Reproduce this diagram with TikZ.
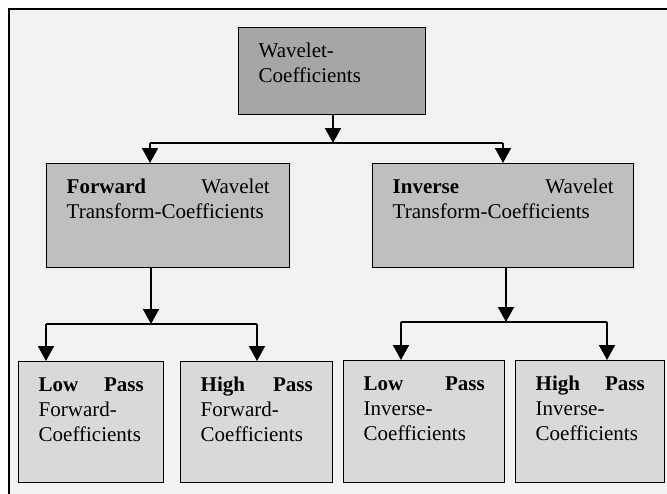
\documentclass[tikz,border=0pt]{standalone}
\usepackage{fontspec}
\setmainfont{Liberation Serif}
\usetikzlibrary{arrows.meta,positioning}

\definecolor{bggray}{HTML}{F2F2F2}
\definecolor{topgray}{HTML}{A6A6A6}
\definecolor{midgray}{HTML}{BFBFBF}
\definecolor{lowgray}{HTML}{D9D9D9}

\tikzset{
  box/.style={draw,line width=1.4pt,anchor=north west,align=left,
    inner xsep=20pt,inner ysep=0pt,text height=30pt,
    font=\fontsize{21}{25}\selectfont},
  conn/.style={line width=1.7pt},
  arr/.style={conn,-{Triangle[width=16pt,length=15pt]}}
}

\begin{document}
\begin{tikzpicture}[x=1pt,y=-1pt]
  \clip (0,0) rectangle (667,493);
  \draw[line width=2pt,fill=bggray] (9,9) rectangle (700,520);

  \node[box,fill=topgray,text width=147pt,text depth=57pt] (coef) at (238,27)
    {Wavelet-\\Coefficients};
  \node[box,fill=midgray,text width=203pt,text depth=74pt] (fwd) at (46,163)
    {\textbf{Forward}\hfill Wavelet\\Transform-Coefficients};
  \node[box,fill=midgray,text width=221pt,text depth=74pt] (inv) at (372,163)
    {\textbf{Inverse}\hfill Wavelet\\Transform-Coefficients};
  \node[box,fill=lowgray,text width=105pt,text depth=91pt] (lowfwd) at (18,361)
    {\textbf{Low}\hfill\textbf{Pass}\\Forward-\\Coefficients};
  \node[box,fill=lowgray,text width=112pt,text depth=91pt] (highfwd) at (180,361)
    {\textbf{High}\hfill\textbf{Pass}\\Forward-\\Coefficients};
  \node[box,fill=lowgray,text width=121pt,text depth=92pt] (lowinv) at (343,360)
    {\textbf{Low}\hfill\textbf{Pass}\\Inverse-\\Coefficients};
  \node[box,fill=lowgray,text width=109pt,text depth=92pt] (highinv) at (515,360)
    {\textbf{High}\hfill\textbf{Pass}\\Inverse-\\Coefficients};

  \coordinate (j1) at (333,143);
  \coordinate (j1l) at (150,143);
  \coordinate (j1r) at (503,143);
  \draw[arr] (coef.south -| j1) -- (j1);
  \draw[conn] (j1l) -- (j1r);
  \draw[arr] (j1l) -- (j1l |- fwd.north);
  \draw[arr] (j1r) -- (j1r |- inv.north);

  \coordinate (j2) at (151,324);
  \coordinate (j2l) at (46,324);
  \coordinate (j2r) at (257,324);
  \draw[arr] (fwd.south -| j2) -- (j2);
  \draw[conn] (j2l) -- (j2r);
  \draw[arr] (j2l) -- (j2l |- lowfwd.north);
  \draw[arr] (j2r) -- (j2r |- highfwd.north);

  \coordinate (j3) at (506,322);
  \coordinate (j3l) at (401,322);
  \coordinate (j3r) at (607,322);
  \draw[arr] (inv.south -| j3) -- (j3);
  \draw[conn] (j3l) -- (j3r);
  \draw[arr] (j3l) -- (j3l |- lowinv.north);
  \draw[arr] (j3r) -- (j3r |- highinv.north);
\end{tikzpicture}
\end{document}
